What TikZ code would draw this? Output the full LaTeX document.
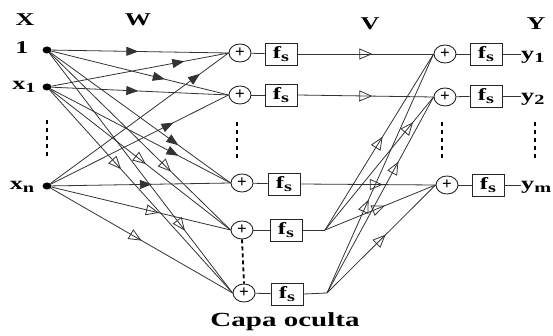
\documentclass[tikz,border=0pt]{standalone}
\usepackage{fontspec}
\setmainfont{Liberation Serif}
\usetikzlibrary{arrows.meta,decorations.markings,shapes.geometric}
\newcommand{\hstr}[1]{\scalebox{1.45}[1]{#1}}
\newcommand{\mysub}[1]{\raisebox{-0.45ex}{\fontsize{14}{14}\selectfont #1}}
\tikzset{
 ln/.style={line width=0.8pt, draw=black!80},
 fa/.style={postaction={decorate},decoration={markings,mark=at position #1 with {\arrow{Triangle[length=12pt,width=9pt]}}}},
 oa/.style={postaction={decorate},decoration={markings,mark=at position #1 with {\arrow[black!80]{Triangle[open,length=13pt,width=11pt]}}}},
 indot/.style={ellipse,fill=black,inner sep=0pt,minimum width=9pt,minimum height=7pt},
 sum/.style={ellipse,draw=black!85,line width=0.9pt,minimum width=22pt,minimum height=18pt,inner sep=0pt,font=\bfseries\fontsize{17}{17}\selectfont},
 fbox/.style={draw=black!85,line width=0.9pt,minimum width=32pt,minimum height=22pt,inner sep=0pt,font=\bfseries\fontsize{17}{17}\selectfont},
 lbl/.style={font=\bfseries\fontsize{18}{18}\selectfont,inner sep=0pt},
 vdots/.style={line width=2.2pt, dash pattern=on 4pt off 4pt},
}
\begin{document}
\begin{tikzpicture}[x=1pt,y=-1pt]
\useasboundingbox (0,0) rectangle (553,336);
% headers
\node[lbl] (X) at (25,20) {\hstr{X}};
\node[lbl] (W) at (138,20) {\hstr{W}};
\node[lbl] (V) at (370,24) {\hstr{V}};
\node[lbl] (Y) at (536,24) {\hstr{Y}};
% inputs
\node[indot] (i1) at (47,50) {};
\node[indot] (ix1) at (47,87) {};
\node[indot] (ixn) at (47,186) {};
\node[lbl] (l1) at (22,48) {\hstr{1}};
\node[lbl] (lx1) at (24,87) {\hstr{x\mysub{1}}};
\node[lbl] (lxn) at (22,187) {\hstr{x\mysub{n}}};
% hidden
\node[sum] (h1) at (240,53) {+};
\node[sum] (h2) at (240,95) {+};
\node[sum] (h3) at (242,183) {+};
\node[sum] (h4) at (242,230) {+};
\node[sum] (h5) at (244,293) {+};
\node[fbox] (f1) at (281,54) {\hstr{f\mysub{s}}};
\node[fbox] (f2) at (281,95) {\hstr{f\mysub{s}}};
\node[fbox] (f3) at (284,184) {\hstr{f\mysub{s}}};
\node[fbox] (f4) at (286,230) {\hstr{f\mysub{s}}};
\node[fbox] (f5) at (287,294) {\hstr{f\mysub{s}}};
\draw[ln] (h1) -- (f1); \draw[ln] (h2) -- (f2); \draw[ln] (h3) -- (f3);
\draw[ln] (h4) -- (f4); \draw[ln] (h5) -- (f5);
% output
\node[sum] (o1) at (445,54) {+};
\node[sum] (o2) at (445,97) {+};
\node[sum] (o3) at (447,185) {+};
\node[fbox] (g1) at (486,54) {\hstr{f\mysub{s}}};
\node[fbox] (g2) at (486,96) {\hstr{f\mysub{s}}};
\node[fbox] (g3) at (488,185) {\hstr{f\mysub{s}}};
\draw[ln] (o1) -- (g1); \draw[ln] (o2) -- (g2); \draw[ln] (o3) -- (g3);
\node[lbl,anchor=west] (y1) at (521,57) {\hstr{y\mysub{1}}};
\node[lbl,anchor=west] (y2) at (521,99) {\hstr{y\mysub{2}}};
\node[lbl,anchor=west] (ym) at (521,187) {\hstr{y\mysub{m}}};
\draw[ln] (g1.east) -- (g1.east -| y1.west);
\draw[ln] (g2.east) -- (g2.east -| y2.west);
\draw[ln] (g3.east) -- (g3.east -| ym.west);
% dots
\draw[vdots] (47,120) -- (47,158);
\draw[vdots] (237,122) -- (237,158);
\draw[vdots] (442,122) -- (442,160);
\draw[vdots] (535,122) -- (535,160);
\draw[line width=1.8pt, dash pattern=on 4pt off 3pt] (h4.south) -- (h5.north);
% input -> hidden
\draw[ln,fa=0.49] (i1) -- (h1.west);
\draw[ln,fa=0.75] (ix1) -- (h1.west);
\draw[ln,fa=0.84] (ixn) -- (h1.west);
\draw[ln,fa=0.64] (i1) -- (h2.west);
\draw[ln,fa=0.49] (ix1) -- (h2.west);
\draw[ln,fa=0.69] (ixn) -- (h2.west);
\draw[ln,fa=0.71] (i1) -- (h3.west);
\draw[ln,fa=0.71] (ix1) -- (h3.west);
\draw[ln,fa=0.56] (ixn) -- (h3.west);
\draw[ln,oa=0.67] (i1) -- (h4.west);
\draw[ln,oa=0.53] (ix1) -- (h4.west);
\draw[ln,oa=0.60] (ixn) -- (h4.west);
\draw[ln,oa=0.74] (i1) -- (h5.west);
\draw[ln,oa=0.39] (ix1) -- (h5.west);
\draw[ln,oa=0.50] (ixn) -- (h5.west);
% hidden -> output
\coordinate (b4) at (325,230);
\coordinate (b5) at (327,293);
\draw[ln,oa=0.55] (f1.east) -- (o1.west);
\draw[ln,oa=0.55] (f2.east) -- (o2.west);
\draw[ln,oa=0.61] (f3.east) -- (o3.west);
\draw[ln] (f4.east) -- (b4);
\draw[ln] (f5.east) -- (b5);
\draw[ln,oa=0.53] (b4) -- (o1.west);
\draw[ln,oa=0.81] (b4) -- (o2.west);
\draw[ln,oa=0.54] (b4) -- (o3.west);
\draw[ln,oa=0.39] (b5) -- (o1.west);
\draw[ln,oa=0.67] (b5) -- (o2.west);
\draw[ln,oa=0.54] (b5) -- (o3.west);
% caption
\node[font=\bfseries\fontsize{20}{20}\selectfont,inner sep=0pt] (cap) at (285,322) {\hstr{Capa oculta}};
\end{tikzpicture}
\end{document}
